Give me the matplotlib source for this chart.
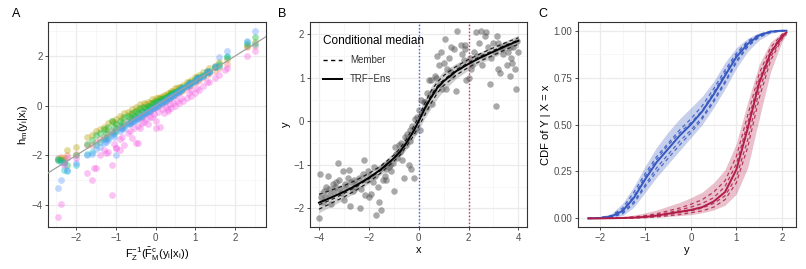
import numpy as np
import matplotlib
matplotlib.use('Agg')
import matplotlib.pyplot as plt
from matplotlib.ticker import FixedLocator
from matplotlib.lines import Line2D

plt.rcParams['font.family'] = ['Liberation Sans', 'DejaVu Sans']
plt.rcParams['mathtext.fontset'] = 'custom'
plt.rcParams['mathtext.rm'] = 'Liberation Sans'
plt.rcParams['mathtext.it'] = 'Liberation Sans'

#%% panel A data: theoretical quantile vs member transformed values
xq = [-2.45, -2.38, -2.3, -2.22, -2.0, -1.72, -1.6, -1.5, -1.4, -1.3,
      -1.2, -1.1, -1.0, -0.9, -0.8, -0.7, -0.6, -0.5, -0.4, -0.3,
      -0.2, -0.1, 0.0, 0.1, 0.2, 0.3, 0.4, 0.5, 0.6, 0.7,
      0.8, 0.9, 1.0, 1.1, 1.2, 1.35, 1.5, 1.6, 1.8, 2.3, 2.5]
h_salmon = [-2.1, -2.05, -2.2, -2.0, -1.95, -1.6, -1.6, -1.45, -1.35, -1.25,
            -1.15, -1.0, -0.9, -0.8, -0.75, -0.6, -0.55, -0.45, -0.35, -0.25,
            -0.15, -0.05, 0.05, 0.15, 0.2, 0.3, 0.4, 0.45, 0.55, 0.65,
            0.75, 0.85, 0.95, 1.05, 1.15, 1.3, 1.4, 1.5, 1.7, 2.35, 2.4]
h_olive = [-2.2, -2.15, -2.1, -1.8, -1.65, -1.25, -1.2, -1.0, -0.95, -0.85,
           -0.7, -0.6, -0.55, -0.4, -0.3, -0.25, -0.15, -0.05, 0.05, 0.1,
           0.15, 0.25, 0.3, 0.35, 0.45, 0.5, 0.6, 0.7, 0.75, 0.85,
           0.95, 1.05, 1.15, 1.25, 1.35, 1.5, 1.6, 1.75, 1.9, 2.4, 2.55]
h_green = [-2.15, -2.2, -2.25, -2.4, -2.0, -1.55, -1.4, -1.2, -1.1, -0.95,
           -0.85, -0.6, -0.75, -0.6, -0.45, -0.4, -0.3, -0.2, -0.1, -0.05,
           0.0, 0.1, 0.2, 0.25, 0.3, 0.4, 0.5, 0.55, 0.65, 0.75,
           0.85, 0.95, 1.05, 1.15, 1.25, 1.4, 1.55, 1.7, 1.95, 2.5, 2.75]
h_teal = [-2.2, -2.25, -2.6, -2.65, -2.4, -1.95, -1.85, -1.6, -1.45, -1.35,
          -1.3, -1.1, -1.0, -0.9, -0.8, -0.7, -0.6, -0.5, -0.4, -0.3,
          -0.2, -0.1, 0.0, 0.1, 0.2, 0.3, 0.4, 0.5, 0.6, 0.7,
          0.8, 0.9, 1.0, 1.1, 1.2, 1.35, 1.55, 1.6, 2.0, 2.55, 2.5]
h_blue = [-3.3, -3.0, -2.3, -2.6, -2.3, -2.0, -1.95, -1.75, -1.65, -1.5,
          -1.4, -1.2, -2.0, -1.0, -0.9, -0.75, -0.65, -0.55, -0.45, -0.35,
          -0.25, -0.15, -0.05, 0.05, 0.15, 0.25, 0.35, 0.45, 0.55, 0.7,
          0.8, 0.9, 1.0, 1.1, 1.2, 1.35, 1.6, 1.95, 2.2, 2.6, 3.0]
h_magenta = [-4.5, -3.95, -2.4, -2.1, -2.1, -2.7, -3.0, -2.5, -2.0, -1.8,
             -1.85, -2.4, -1.7, -1.35, -1.6, -1.1, -1.3, -1.5, -0.9, -0.65,
             -0.75, -0.45, -0.6, -0.85, -0.3, -0.2, -0.1, 0.0, 0.1, 0.2,
             0.3, 0.4, 0.5, 0.65, 0.8, 0.95, 1.1, 1.25, 1.5, 2.0, 2.2]
# second batch of observations in the dense middle part
xq2 = [-1.25, -1.05, -0.85, -0.65, -0.55, -0.45, -0.35, -0.25, -0.15, -0.05,
       0.05, 0.15, 0.25, 0.35, 0.45, 0.55, 0.65, 0.85, 1.05, 1.3]
h2_salmon = [-1.3, -1.05, -0.85, -0.7, -0.55, -0.5, -0.4, -0.3, -0.2, -0.1,
             0.0, 0.1, 0.2, 0.3, 0.4, 0.5, 0.6, 0.8, 1.0, 1.25]
h2_olive = [-0.95, -0.65, -0.5, -0.35, -0.25, -0.15, -0.05, 0.05, 0.1, 0.2,
            0.3, 0.35, 0.45, 0.5, 0.6, 0.7, 0.75, 0.95, 1.15, 1.4]
h2_green = [-1.1, -0.85, -0.7, -0.5, -0.4, -0.3, -0.2, -0.1, 0.0, 0.1,
            0.2, 0.25, 0.35, 0.45, 0.5, 0.6, 0.7, 0.9, 1.1, 1.35]
h2_teal = [-1.35, -1.15, -0.9, -0.7, -0.6, -0.5, -0.4, -0.3, -0.2, -0.1,
           0.0, 0.1, 0.2, 0.3, 0.45, 0.55, 0.65, 0.85, 1.1, 1.35]
h2_blue = [-1.45, -1.25, -0.95, -0.75, -0.6, -0.55, -0.45, -0.3, -0.2, -0.1,
           0.05, 0.15, 0.25, 0.35, 0.45, 0.55, 0.7, 0.9, 1.1, 1.4]
h2_magenta = [-1.9, -1.55, -1.25, -1.0, -0.9, -0.8, -0.7, -0.55, -0.45, -0.35,
              -0.25, -0.15, -0.05, 0.05, 0.1, 0.2, 0.3, 0.5, 0.7, 0.95]
xq_mag_extra = [-1.1, -1.55, -0.45, -0.9, -1.0, 0.0, 0.3, 0.9, 1.75]
h_mag_extra = [-3.6, -2.5, -1.5, -1.8, -1.7, -0.9, -0.15, 0.65, 1.45]

#%% panel B data
bx_pts = [-4.0, -3.95, -3.9, -3.85, -3.8, -3.7, -3.65, -3.6, -3.55, -3.5,
          -3.45, -3.4, -3.3, -3.25, -3.2, -3.15, -3.1, -3.05, -3.0, -2.95,
          -2.9, -2.85, -2.8, -2.75, -2.7, -2.6, -2.55, -2.5, -2.4, -2.35,
          -2.3, -2.25, -2.2, -2.15, -2.1, -2.05, -2.0, -1.95, -1.9, -1.85,
          -1.8, -1.75, -1.7, -1.65, -1.6, -1.55, -1.5, -1.45, -1.4, -1.35,
          -1.3, -1.25, -1.2, -1.15, -1.1, -1.0, -0.95, -0.9, -0.85, -0.8,
          -0.75, -0.7, -0.65, -0.6, -0.55, -0.5, -0.45, -0.4, -0.35, -0.3,
          -0.25, -0.2, -0.15, -0.1, -0.05, 0.0, 0.05, 0.1, 0.15, 0.2,
          0.3, 0.35, 0.45, 0.5, 0.55, 0.6, 0.7, 0.75, 0.8, 0.85,
          0.9, 0.95, 1.0, 1.05, 1.1, 1.15, 1.2, 1.3, 1.35, 1.4,
          1.5, 1.55, 1.6, 1.7, 1.75, 1.8, 1.85, 1.9, 2.0, 2.05,
          2.1, 2.2, 2.3, 2.35, 2.4, 2.5, 2.55, 2.6, 2.7, 2.8,
          2.85, 2.9, 3.0, 3.05, 3.1, 3.15, 3.2, 3.25, 3.3, 3.4,
          3.5, 3.55, 3.6, 3.65, 3.7, 3.75, 3.8, 3.85, 3.9, 3.95,
          4.0, -3.75, -3.35, -2.65, -1.3, -0.7, -0.45, -0.2, 0.25, 1.25,
          2.15, 3.35, 3.65, 0.4, 0.65, 1.85, 2.65, 3.2, -1.05, -0.85, -0.35]
by_pts = [-2.22, -1.22, -1.75, -1.85, -1.6, -1.5, -1.25, -1.55, -1.7, -1.9,
          -1.45, -1.6, -1.4, -0.95, -1.35, -1.55, -1.65, -1.15, -1.8, -1.45,
          -1.5, -1.3, -1.12, -1.95, -1.4, -1.35, -1.5, -1.45, -1.3, -2.0,
          -1.55, -1.2, -0.9, -1.7, -1.35, -1.15, -1.75, -1.25, -1.68, -1.4,
          -1.05, -1.25, -2.15, -1.5, -1.85, -1.1, -2.05, -1.35, -1.0, -1.25,
          -1.1, -0.95, -1.05, -1.0, -1.15, -1.6, -0.6, -0.75, -0.85, -0.55,
          -0.7, -0.5, -0.9, -1.3, -0.35, -0.55, -0.3, -1.0, -0.2, -1.1,
          -0.1, -1.3, 0.05, -0.15, 0.1, 0.25, -0.2, 0.5, 0.2, 0.45,
          0.3, 0.65, 0.6, 0.95, 0.4, 0.7, 1.0, 1.5, 1.3, 0.85,
          1.6, 0.75, 1.35, 1.9, 0.75, 1.2, 1.45, 1.7, 1.05, 1.65,
          0.7, 2.08, 1.25, 1.75, 1.55, 1.4, 1.65, 0.95, 1.0, 1.45,
          1.2, 1.6, 2.05, 1.5, 1.8, 2.08, 1.3, 1.5, 2.05, 1.7,
          0.85, 1.45, 1.8, 1.6, 0.35, 1.95, 1.2, 1.1, 1.7, 1.55,
          1.75, 1.3, 1.6, 1.05, 1.45, 1.35, 1.7, 1.2, 0.75, 1.85,
          1.6, -1.75, -1.5, -1.6, -1.35, -0.65, -0.4, -0.25, 0.45, 1.15,
          1.3, 1.65, 1.7, 0.95, 1.05, 1.75, 1.95, 1.8, -0.95, -0.75, -0.45]

xb = [-4, -3.5, -3, -2.5, -2, -1.5, -1, -0.75, -0.5, -0.25, 0,
      0.25, 0.5, 0.75, 1, 1.5, 2, 2.5, 3, 3.5, 4]
med_b = [-1.87, -1.75, -1.62, -1.47, -1.30, -1.10, -0.85, -0.70, -0.50, -0.27, 0.0,
         0.30, 0.55, 0.77, 0.92, 1.15, 1.32, 1.47, 1.60, 1.73, 1.85]
lo_b = [-2.1, -1.95, -1.8, -1.62, -1.43, -1.22, -0.97, -0.83, -0.65, -0.45, -0.2,
        0.08, 0.3, 0.53, 0.7, 0.98, 1.18, 1.34, 1.47, 1.6, 1.7]
hi_b = [-1.6, -1.52, -1.42, -1.3, -1.15, -0.97, -0.72, -0.56, -0.33, -0.08, 0.2,
        0.52, 0.8, 1.0, 1.15, 1.33, 1.47, 1.6, 1.72, 1.85, 1.98]
mem_b1 = [-1.68, -1.58, -1.48, -1.35, -1.2, -1.02, -0.78, -0.62, -0.42, -0.17, 0.1,
          0.42, 0.7, 0.9, 1.05, 1.26, 1.42, 1.56, 1.69, 1.81, 1.92]
mem_b2 = [-2.02, -1.88, -1.74, -1.58, -1.4, -1.18, -0.92, -0.78, -0.58, -0.37, -0.12,
          0.15, 0.42, 0.65, 0.82, 1.06, 1.24, 1.39, 1.52, 1.65, 1.77]
mem_b3 = [-1.92, -1.8, -1.66, -1.5, -1.32, -1.12, -0.86, -0.71, -0.52, -0.28, 0.02,
          0.33, 0.6, 0.81, 0.95, 1.18, 1.35, 1.5, 1.63, 1.75, 1.87]
x_cond = [0, 2]

#%% panel C data: conditional CDFs at x=0 (blue) and x=2 (red)
yc = [-2.25, -2.0, -1.75, -1.5, -1.25, -1.0, -0.75, -0.5, -0.25, 0.0,
      0.25, 0.5, 0.75, 1.0, 1.25, 1.5, 1.75, 2.0, 2.1]
blue_med = [0, 0.002, 0.01, 0.04, 0.11, 0.21, 0.30, 0.37, 0.44, 0.50,
            0.57, 0.66, 0.76, 0.86, 0.93, 0.975, 0.995, 1.0, 1.0]
blue_lo = [0, 0, 0.003, 0.015, 0.06, 0.14, 0.22, 0.29, 0.36, 0.43,
           0.50, 0.59, 0.69, 0.80, 0.89, 0.95, 0.985, 0.998, 1.0]
blue_hi = [0.003, 0.01, 0.025, 0.08, 0.17, 0.28, 0.38, 0.46, 0.53, 0.59,
           0.65, 0.73, 0.83, 0.91, 0.96, 0.99, 0.998, 1.0, 1.0]
blue_m1 = [0, 0.004, 0.015, 0.055, 0.14, 0.24, 0.33, 0.40, 0.47, 0.53,
           0.60, 0.69, 0.79, 0.88, 0.945, 0.98, 0.997, 1.0, 1.0]
blue_m2 = [0, 0.001, 0.007, 0.03, 0.09, 0.18, 0.27, 0.34, 0.41, 0.47,
           0.54, 0.63, 0.73, 0.84, 0.92, 0.97, 0.993, 1.0, 1.0]
blue_m3 = [0, 0.003, 0.012, 0.045, 0.12, 0.225, 0.315, 0.39, 0.455, 0.51,
           0.575, 0.67, 0.775, 0.87, 0.94, 0.978, 0.996, 1.0, 1.0]
blue_m4 = [0, 0.001, 0.005, 0.025, 0.08, 0.17, 0.25, 0.32, 0.39, 0.455,
           0.53, 0.62, 0.72, 0.83, 0.915, 0.965, 0.99, 0.999, 1.0]
red_med = [0, 0, 0.001, 0.002, 0.004, 0.008, 0.015, 0.025, 0.035, 0.045,
           0.06, 0.09, 0.14, 0.26, 0.48, 0.72, 0.88, 0.97, 0.99]
red_lo = [0, 0, 0, 0.001, 0.002, 0.003, 0.006, 0.01, 0.015, 0.02,
          0.03, 0.045, 0.07, 0.13, 0.27, 0.53, 0.78, 0.94, 0.98]
red_hi = [0.002, 0.003, 0.005, 0.01, 0.018, 0.03, 0.045, 0.065, 0.085, 0.11,
          0.14, 0.19, 0.26, 0.40, 0.62, 0.82, 0.94, 0.99, 1.0]
red_m1 = [0, 0, 0.002, 0.004, 0.008, 0.015, 0.025, 0.04, 0.055, 0.075,
          0.10, 0.14, 0.20, 0.33, 0.55, 0.77, 0.91, 0.98, 0.995]
red_m2 = [0, 0, 0.001, 0.002, 0.004, 0.007, 0.012, 0.02, 0.03, 0.04,
          0.055, 0.08, 0.12, 0.22, 0.42, 0.68, 0.86, 0.96, 0.985]
red_m3 = [0, 0, 0, 0.001, 0.002, 0.004, 0.008, 0.014, 0.02, 0.03,
          0.04, 0.06, 0.10, 0.19, 0.38, 0.64, 0.84, 0.955, 0.98]
red_m4 = [0, 0, 0.001, 0.003, 0.006, 0.011, 0.02, 0.03, 0.045, 0.06,
          0.08, 0.11, 0.17, 0.29, 0.51, 0.74, 0.89, 0.975, 0.99]

BLUE = '#3557C0'
RED = '#B01E48'
tick_col = '#4D4D4D'


def style_ax(ax, xmaj, ymaj, xmin, ymin):
    ax.set_facecolor('white')
    ax.xaxis.set_major_locator(FixedLocator(xmaj))
    ax.yaxis.set_major_locator(FixedLocator(ymaj))
    ax.xaxis.set_minor_locator(FixedLocator(xmin))
    ax.yaxis.set_minor_locator(FixedLocator(ymin))
    ax.grid(which='major', color='#EBEBEB', lw=0.9, zorder=0)
    ax.grid(which='minor', color='#F4F4F4', lw=0.5, zorder=0)
    ax.set_axisbelow(True)
    for s in ax.spines.values():
        s.set_color('#333333')
        s.set_linewidth(0.8)
    ax.tick_params(which='major', length=2.5, width=0.6, color='#333333',
                   labelsize=7, labelcolor=tick_col, pad=1.5)
    ax.tick_params(which='minor', length=0)


fig = plt.figure(figsize=(8.06, 2.69), dpi=100)
axA = fig.add_axes([0.0596, 0.156, 0.2704, 0.762])
axB = fig.add_axes([0.3846, 0.156, 0.2694, 0.762])
axC = fig.add_axes([0.7171, 0.156, 0.2705, 0.762])

#%% A
style_ax(axA, [-2, -1, 0, 1, 2], [-4, -2, 0, 2],
         [-2.5, -1.5, -0.5, 0.5, 1.5, 2.5], [-3, -1, 1, 3])
axA.set_xlim(-2.71, 2.78)
axA.set_ylim(-4.89, 3.37)
cols = ['#F8766D', '#B79F00', '#00BA38', '#00BFC4', '#619CFF', '#F564E3']
series = [h_salmon, h_olive, h_green, h_teal, h_blue, h_magenta]
series2 = [h2_salmon, h2_olive, h2_green, h2_teal, h2_blue, h2_magenta]
for c, h, h2 in zip(cols, series, series2):
    axA.scatter(xq, h, s=24, color=c, alpha=0.38, linewidths=0, zorder=2)
    axA.scatter(xq2, h2, s=24, color=c, alpha=0.38, linewidths=0, zorder=2)
axA.scatter(xq_mag_extra, h_mag_extra, s=24, color=cols[-1], alpha=0.38,
            linewidths=0, zorder=2)
axA.axline((0, 0), slope=1, color='#A0A0A0', lw=0.9, zorder=3)
axA.set_xlabel(r'$\mathrm{F_Z^{-1}(\bar{F}^c_M(y_i|x_i))}$', fontsize=8, labelpad=2)
axA.set_ylabel(r'$\mathrm{h_m(y_i|x_i)}$', fontsize=8, labelpad=1)

#%% B
style_ax(axB, [-4, -2, 0, 2, 4], [-2, -1, 0, 1, 2],
         [-3, -1, 1, 3], [-1.5, -0.5, 0.5, 1.5])
axB.set_xlim(-4.36, 4.35)
axB.set_ylim(-2.43, 2.28)
axB.scatter(bx_pts, by_pts, s=22, color='#555555', alpha=0.5, linewidths=0, zorder=2)
axB.fill_between(xb, lo_b, hi_b, color='#888888', alpha=0.4, lw=0, zorder=3)
for m in [mem_b1, mem_b2, mem_b3]:
    axB.plot(xb, m, color='#222222', lw=0.9, ls=(0, (3, 2.5)), zorder=4)
axB.plot(xb, med_b, color='black', lw=1.4, zorder=5)
axB.axvline(x_cond[0], color='#4A5FE0', lw=1.0, ls=(0, (1, 1.5)), zorder=4)
axB.axvline(x_cond[1], color='#D0304F', lw=1.0, ls=(0, (1, 1.5)), zorder=4)
axB.set_xlabel('x', fontsize=8, labelpad=2)
axB.set_ylabel('y', fontsize=8, labelpad=2)
handles = [Line2D([], [], color='black', lw=1.0, ls=(0, (3, 2.5))),
           Line2D([], [], color='black', lw=1.4)]
leg = axB.legend(handles, ['Member', 'TRF\u2212Ens'], title='Conditional median',
                 loc='upper left', frameon=False, fontsize=7, title_fontsize=8.5,
                 handlelength=2.0, borderaxespad=0.9, labelspacing=0.9)
leg._legend_box.align = 'left'
for t in leg.get_texts():
    t.set_color('#333333')

#%% C
style_ax(axC, [-2, -1, 0, 1, 2], [0, 0.25, 0.5, 0.75, 1.0],
         [-1.5, -0.5, 0.5, 1.5], [0.125, 0.375, 0.625, 0.875])
axC.set_xlim(-2.48, 2.31)
axC.set_ylim(-0.046, 1.046)
axC.yaxis.set_major_formatter(plt.FuncFormatter(lambda v, p: '%.2f' % v))
axC.fill_between(yc, blue_lo, blue_hi, color=BLUE, alpha=0.28, lw=0, zorder=2)
axC.fill_between(yc, red_lo, red_hi, color=RED, alpha=0.28, lw=0, zorder=2)
for m in [blue_m1, blue_m2, blue_m3, blue_m4]:
    axC.plot(yc, m, color=BLUE, lw=0.9, ls=(0, (3, 2.5)), alpha=0.85, zorder=3)
for m in [red_m1, red_m2, red_m3, red_m4]:
    axC.plot(yc, m, color=RED, lw=0.9, ls=(0, (3, 2.5)), alpha=0.85, zorder=3)
axC.plot(yc, blue_med, color=BLUE, lw=1.4, zorder=4)
axC.plot(yc, red_med, color=RED, lw=1.4, zorder=4)
axC.set_xlabel('y', fontsize=8, labelpad=2)
axC.set_ylabel('CDF of Y | X = x', fontsize=8, labelpad=2)

for lab, xpos in [('A', 0.015), ('B', 0.345), ('C', 0.668)]:
    fig.text(xpos, 0.97, lab, fontsize=9, va='top', ha='left')

fig.savefig('out.png', dpi=100)
